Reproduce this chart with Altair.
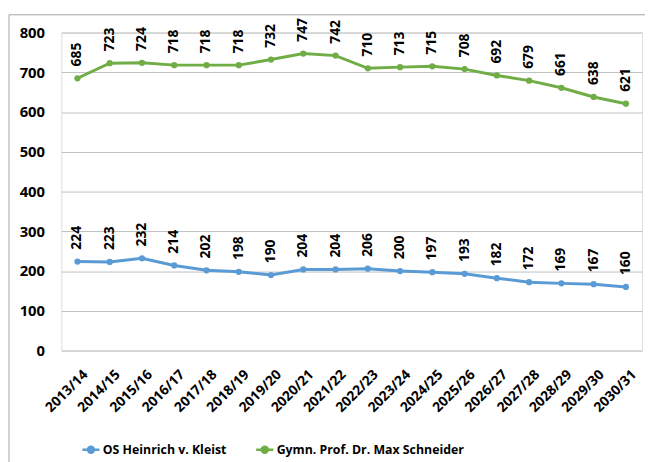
import altair as alt
import pandas as pd

years = ["2013/14", "2014/15", "2015/16", "2016/17", "2017/18", "2018/19",
         "2019/20", "2020/21", "2021/22", "2022/23", "2023/24", "2024/25",
         "2025/26", "2026/27", "2027/28", "2028/29", "2029/30", "2030/31"]
series_a = "OS Heinrich v. Kleist"
series_b = "Gymn. Prof. Dr. Max Schneider"
values_a = [224, 223, 232, 214, 202, 198, 190, 204, 204, 206, 200, 197, 193, 182, 172, 169, 167, 160]
values_b = [685, 723, 724, 718, 718, 718, 732, 747, 742, 710, 713, 715, 708, 692, 679, 661, 638, 621]

rows = []
for y, v in zip(years, values_a):
    rows.append({"year": y, "series": series_a, "value": v})
for y, v in zip(years, values_b):
    rows.append({"year": y, "series": series_b, "value": v})
df = pd.DataFrame(rows)

FONT = "Open Sans"
color_scale = alt.Scale(domain=[series_a, series_b], range=["#5B9BD5", "#70AD47"])

base = alt.Chart(df).encode(
    x=alt.X("year:N", sort=years, title=None,
            axis=alt.Axis(labelAngle=-45, labelFontSize=14, labelFontWeight="bold",
                          labelFont=FONT, labelColor="#000", ticks=False, domain=False,
                          labelPadding=17, labelOffset=3, grid=False)),
    y=alt.Y("value:Q", title=None,
            scale=alt.Scale(domain=[0, 800], nice=False),
            axis=alt.Axis(values=[0, 100, 200, 300, 400, 500, 600, 700, 800],
                          labelFontSize=15, labelFontWeight="bold", labelFont=FONT,
                          labelColor="#000", ticks=False, domain=False, labelPadding=17,
                          gridColor="#bfbfbf", gridWidth=1)),
    color=alt.Color("series:N", scale=color_scale, title=None,
                    legend=alt.Legend(orient="none", direction="horizontal",
                                      legendX=20, legendY=412,
                                      labelFontSize=12.5, labelFontWeight="bold",
                                      labelFont=FONT, labelColor="#000", labelLimit=0,
                                      symbolType="M-1,0H1M0.35,0A0.35,0.35 0 1,1 -0.35,0A0.35,0.35 0 1,1 0.35,0Z",
                                      symbolSize=300, symbolStrokeWidth=2.5,
                                      columnPadding=24, labelOffset=2)),
)

lines = base.mark_line(strokeWidth=3)
points = base.mark_point(filled=True, size=40, opacity=1)
labels = base.mark_text(angle=270, align="left", baseline="middle", dx=12,
                        fontSize=14, fontWeight="bold", font=FONT, color="#000").encode(
    text=alt.Text("value:Q"), color=alt.value("#000"))

frame_df = pd.DataFrame({"a": [0]})
frame_left = alt.Chart(frame_df).mark_rule(color="#a6a6a6", strokeWidth=1).encode(
    x=alt.value(-53), y=alt.value(-18), y2=alt.value(500))
frame_top = alt.Chart(frame_df).mark_rule(color="#a6a6a6", strokeWidth=1).encode(
    x=alt.value(-53), x2=alt.value(700), y=alt.value(-18))

chart = alt.layer(frame_left, frame_top, lines, points, labels).properties(
    width=588, height=322,
    autosize=alt.AutoSizeParams(type="none"),
    padding={"left": 54, "top": 22, "right": 3, "bottom": 110},
).configure_view(stroke=None).configure(background="white")

chart.save("out.html", embed_options={"renderer": "svg", "actions": False})
